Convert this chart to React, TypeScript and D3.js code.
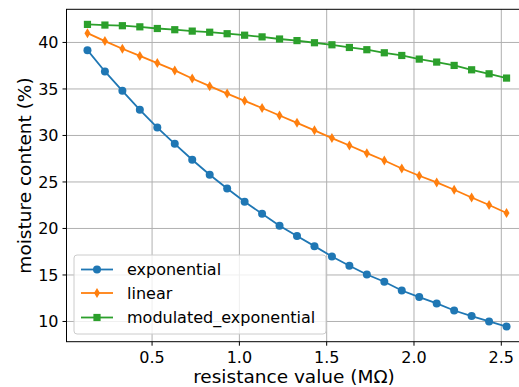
import React from "react";
import * as d3 from "d3";

const resistance = [0.13, 0.23, 0.33, 0.43, 0.53, 0.63, 0.73, 0.83, 0.93, 1.03, 1.13, 1.23, 1.33, 1.43, 1.53, 1.63, 1.73, 1.83, 1.93, 2.03, 2.13, 2.23, 2.33, 2.43, 2.53];
const exponential = [39.17, 36.88, 34.8, 32.76, 30.85, 29.1, 27.39, 25.77, 24.3, 22.87, 21.58, 20.29, 19.18, 18.1, 16.99, 15.99, 15.05, 14.27, 13.33, 12.62, 11.94, 11.18, 10.58, 10.0, 9.45];
const linear = [41.0, 40.15, 39.32, 38.55, 37.78, 36.99, 36.12, 35.3, 34.5, 33.72, 32.95, 32.15, 31.36, 30.55, 29.72, 28.92, 28.1, 27.31, 26.45, 25.67, 24.95, 24.16, 23.33, 22.52, 21.66];
const modulatedExponential = [41.94, 41.87, 41.8, 41.68, 41.5, 41.37, 41.22, 41.1, 40.94, 40.78, 40.6, 40.37, 40.2, 39.97, 39.75, 39.46, 39.22, 38.89, 38.6, 38.21, 37.89, 37.53, 37.06, 36.63, 36.17];
const seriesNames = ["exponential", "linear", "modulated_exponential"];
const xTicks = [0.5, 1.0, 1.5, 2.0, 2.5];
const yTicks = [10, 15, 20, 25, 30, 35, 40];

const colors = ["#1f77b4", "#ff7f0e", "#2ca02c"];
const markers = ["circle", "thin_diamond", "square"];

const W = 519, H = 387;
const left = 66.5, right = 527.5, top = 9.3, bottom = 341.7;

const FONT = "'DejaVu Sans', sans-serif";

function Marker({ kind, x, y, color }: { kind: string; x: number; y: number; color: string }) {
  if (kind === "circle") return <circle cx={x} cy={y} r={4} fill={color} />;
  if (kind === "square") return <rect x={x - 3.6} y={y - 3.6} width={7.2} height={7.2} fill={color} />;
  const w = 3, h = 5;
  return <path d={`M${x},${y - h}L${x + w},${y}L${x},${y + h}L${x - w},${y}Z`} fill={color} />;
}

export default function App() {
  const xmin = 0.13 - 0.05 * 2.4;
  const xmax = 2.53 + 0.05 * 2.4;
  const allY = [...exponential, ...linear, ...modulatedExponential];
  const ylo = d3.min(allY)!, yhi = d3.max(allY)!;
  const pad = (yhi - ylo) * 0.05;
  const x = d3.scaleLinear().domain([xmin, xmax]).range([left, right]);
  const y = d3.scaleLinear().domain([ylo - pad, yhi + pad]).range([bottom, top]);
  const data = [exponential, linear, modulatedExponential];
  const line = d3.line<[number, number]>().x(d => x(d[0])).y(d => y(d[1]));

  const lgX = 74, lgY = 255, lgW = 252, lgH = 79;
  const rowY = [269.5, 293, 317.5];

  return (
    <svg width={W} height={H} style={{ position: "absolute", left: 0, top: 0, background: "#fff" }} fontFamily={FONT}>
      <rect x={0} y={0} width={W} height={H} fill="#fff" />
      {xTicks.map(t => (
        <line key={"gx" + t} x1={x(t)} x2={x(t)} y1={top} y2={bottom} stroke="#b0b0b0" strokeWidth={1} />
      ))}
      {yTicks.map(t => (
        <line key={"gy" + t} x1={left} x2={right} y1={y(t)} y2={y(t)} stroke="#b0b0b0" strokeWidth={1} />
      ))}
      {data.map((s, i) => {
        const pts = resistance.map((r, j) => [r, s[j]] as [number, number]);
        return (
          <g key={i}>
            <path d={line(pts)!} fill="none" stroke={colors[i]} strokeWidth={1.8} />
            {pts.map((p, j) => <Marker key={j} kind={markers[i]} x={x(p[0])} y={y(p[1])} color={colors[i]} />)}
          </g>
        );
      })}
      <rect x={left} y={top} width={right - left} height={bottom - top} fill="none" stroke="#000" strokeWidth={1} />
      {xTicks.map(t => (
        <g key={"tx" + t}>
          <line x1={x(t)} x2={x(t)} y1={bottom} y2={bottom + 4} stroke="#000" strokeWidth={1} />
          <text x={x(t)} y={bottom + 21} textAnchor="middle" fontSize={16} fill="#000">{t.toFixed(1)}</text>
        </g>
      ))}
      {yTicks.map(t => (
        <g key={"ty" + t}>
          <line x1={left - 4} x2={left} y1={y(t)} y2={y(t)} stroke="#000" strokeWidth={1} />
          <text x={left - 8} y={y(t)} dy="0.36em" textAnchor="end" fontSize={16} fill="#000">{t}</text>
        </g>
      ))}
      <text x={294} y={383} textAnchor="middle" fontSize={18.5} fill="#000">resistance value (MΩ)</text>
      <text transform={`translate(31,${(top + bottom) / 2}) rotate(-90)`} textAnchor="middle" fontSize={18.5} fill="#000">moisture content (%)</text>
      <rect x={lgX} y={lgY} width={lgW} height={lgH} rx={3} fill="#fff" fillOpacity={0.8} stroke="#cccccc" strokeWidth={1} />
      {seriesNames.map((n, i) => (
        <g key={n}>
          <line x1={81} x2={113} y1={rowY[i]} y2={rowY[i]} stroke={colors[i]} strokeWidth={1.8} />
          <Marker kind={markers[i]} x={97} y={rowY[i]} color={colors[i]} />
          <text x={127} y={rowY[i]} dy="0.36em" fontSize={16} fill="#000">{n}</text>
        </g>
      ))}
    </svg>
  );
}
